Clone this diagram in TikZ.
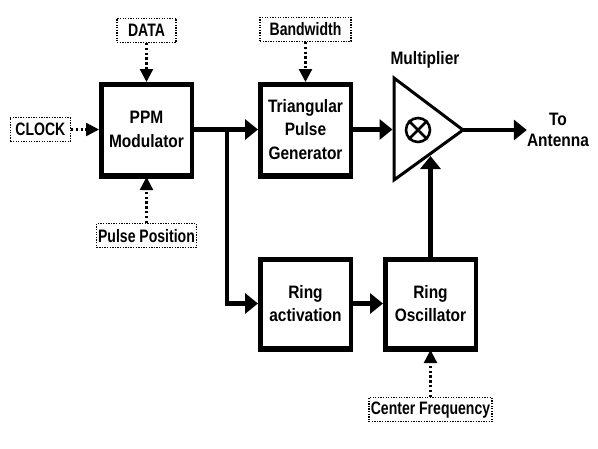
\documentclass[tikz,border=0pt]{standalone}
\usepackage{fontspec}
\setmainfont{Liberation Sans}
\newfontfamily\bigfont[FakeStretch=0.86]{Liberation Sans}
\newfontfamily\smallfont[FakeStretch=0.78]{Liberation Sans}
\usetikzlibrary{positioning,arrows.meta,calc}

\begin{document}
\begin{tikzpicture}[
  x=1pt, y=1pt,
  box/.style={draw,line width=4.5pt,minimum width=90.5pt,minimum height=90.5pt,inner sep=2pt,align=center,
    font=\bigfont\bfseries\fontsize{18}{23.5}\selectfont},
  inp/.style={draw,line width=1.3pt,dash pattern=on 1.3pt off 1.3pt,minimum height=24pt,inner xsep=1.5pt,inner ysep=0pt,
    font=\smallfont\bfseries\fontsize{18}{20}\selectfont},
  lbl/.style={inner sep=0pt,align=center,font=\bigfont\bfseries\fontsize{18}{21}\selectfont},
  arr/.style={line width=4.5pt,-{Triangle[length=13pt,width=20pt]}},
  darr/.style={line width=2.4pt,dash pattern=on 2.4pt off 2.4pt,-{Triangle[length=13pt,width=13pt]}}
]
\useasboundingbox (0,0) rectangle (598,-448);
% blocks
\node[box] (ppm) at (146.5,-129.5) {PPM\\Modulator};
\node[inp, minimum width=59pt, above=39pt of ppm] (data) {DATA};
\node[inp, below=46pt of ppm] (pulse) {Pulse Position};
\node[inp, minimum width=60pt, left=28pt of ppm] (clock) {CLOCK};
\node[box, right=64pt of ppm] (tri) {Triangular\\Pulse\\Generator};
\node[inp, minimum width=91pt, above=40pt of tri] (bw) {Bandwidth};
\node[box, minimum height=88.5pt, below=80pt of tri] (ringact) {Ring\\activation};
\node[box, minimum height=88.5pt, right=30pt of ringact] (ringosc) {Ring\\Oscillator};
\node[inp, minimum width=123pt, below=47pt of ringosc] (cf) {Center Frequency};
% thicker bottom edges
\foreach \n in {ppm,tri,ringact,ringosc}
  \draw[line width=2pt] ($(\n.south west)+(0,-0.5)$) -- ($(\n.south east)+(0,-0.5)$);
% multiplier
\coordinate (mtop) at (394,-78);
\coordinate (mbot) at (394,-180);
\coordinate (mtip) at (463,-130);
\coordinate (mlow) at ($(mbot)!0.52!(mtip)$);
\draw[line width=3pt,line join=miter] (mtop) -- (mtip) -- (mbot) -- cycle;
\node[draw,circle,line width=2.6pt,minimum size=24pt,inner sep=0pt] (mix) at (418,-130) {};
\draw[line width=2.6pt] (mix.north east) -- (mix.south west);
\draw[line width=2.6pt] (mix.north west) -- (mix.south east);
\node[lbl] (mlabel) at (425,-60) {Multiplier};
\node[lbl] (ant) at (558,-130) {To\\Antenna};
% connectors
\coordinate (split) at ($(ppm.east)+(33,0)$);
\draw[darr] (data) -- (ppm);
\draw[darr] (pulse) -- (ppm);
\draw[darr] (clock) -- (ppm);
\draw[darr] (bw) -- (tri);
\draw[darr] (cf) -- (ringosc);
\draw[arr] (ppm) -- (tri);
\draw[arr] (split) |- (ringact.west);
\draw[arr] (ringact) -- (ringosc);
\draw[arr] (tri.east) -- ($(mtop)!(tri.east)!(mbot)+(-1.5,0)$);
\draw[arr] (ringosc.north) -- ($(ringosc.north |- mlow)+(0,-2)$);
\draw[arr] (mtip) -- (ant.west);
\end{tikzpicture}
\end{document}
